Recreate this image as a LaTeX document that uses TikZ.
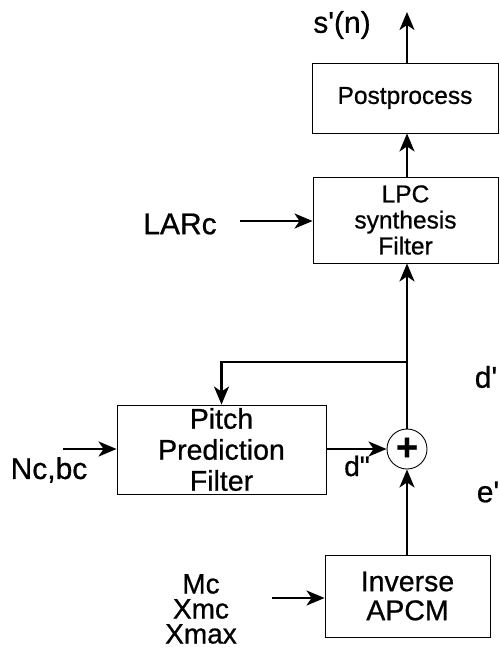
\documentclass[tikz,border=0pt]{standalone}
\usepackage{fontspec}
\setmainfont{Liberation Sans}[FakeBold=0.7]
\usetikzlibrary{arrows.meta}
\begin{document}
\begin{tikzpicture}[x=1pt,y=-1pt,
  blk/.style={draw, line width=0.9pt, align=center, inner sep=0pt},
  conn/.style={line width=2.3pt, -{Stealth[length=18pt,width=15pt,inset=5pt]}},
  lbl/.style={font=\fontsize{30}{26}\selectfont, inner sep=0pt, align=center},
  lblsm/.style={font=\fontsize{28}{26}\selectfont, inner sep=0pt, align=center},
]
\useasboundingbox (0,0) rectangle (499,648);
% blocks
\node[blk, minimum width=186pt, minimum height=70pt, font=\fontsize{24.5}{26}\selectfont] (post) at (405,98) {Postprocess};
\node[blk, minimum width=185pt, minimum height=86pt, font=\fontsize{24.5}{26}\selectfont] (lpc) at (405.5,220) {LPC\\synthesis\\Filter};
\node[blk, minimum width=209pt, minimum height=89pt, font=\fontsize{28.5}{31}\selectfont] (pitch) at (221.5,449.5) {Pitch\\Prediction\\Filter};
\node[blk, minimum width=165pt, minimum height=82pt, font=\fontsize{28.5}{29}\selectfont] (inv) at (407.5,596) {Inverse\\APCM};
\node[circle, draw, line width=0.9pt, minimum size=40pt, inner sep=0pt, font=\fontsize{38}{38}\selectfont\bfseries] (sum) at (407,449) {+};
% labels
\node[lbl] (sn) at (342,25) {s\textquotesingle(n)};
\node[lbl] (larc) at (180,224) {LARc};
\node[lbl] (ncbc) at (49,470) {Nc,bc};
\node[lblsm] (mc) at (201,584) {Mc};
\node[lblsm] (xmc) at (201,609) {Xmc};
\node[lblsm] (xmax) at (201,634) {Xmax};
\node[lbl] (dp) at (486,377) {d\textquotesingle};
\node[lbl] (ep) at (488,492) {e\textquotesingle};
\node[lbl, font=\fontsize{28}{28}\selectfont] (dpp) at (357,466) {d\textquotedbl};
% coordinates
\coordinate (out) at (407,12);
\coordinate (br) at (407,362);
\coordinate (larcS) at (240,221);
\coordinate (ncS) at (63,449);
\coordinate (mcS) at (272,598);
% connectors
\draw[conn] (inv.north -| sum) -- (sum.south);
\draw[conn] (sum.north) -- (sum |- lpc.south);
\draw[conn] (br) -| (pitch.north);
\draw[conn] (pitch.east |- sum) -- (sum.west);
\draw[conn] (lpc.north -| sum) -- (post.south -| sum);
\draw[conn] (post.north -| sum) -- (out);
\draw[conn] (larcS) -- (lpc.west |- larcS);
\draw[conn] (ncS) -- (pitch.west |- ncS);
\draw[conn] (mcS) -- (inv.west |- mcS);
\end{tikzpicture}
\end{document}
